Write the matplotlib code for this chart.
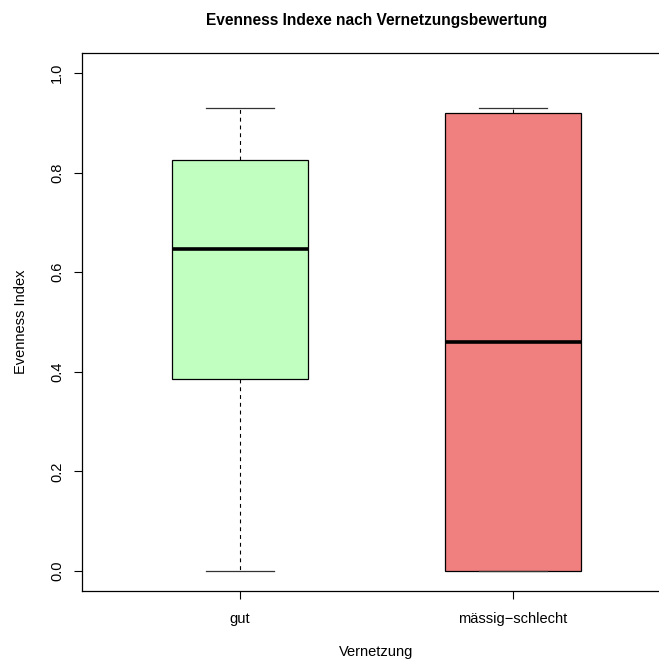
import matplotlib
matplotlib.use("Agg")
import matplotlib.pyplot as plt

plt.rcParams["font.family"] = ["Liberation Sans", "DejaVu Sans"]

categories = ["gut", "mässig\u2212schlecht"]
whislo = [0.0, 0.0]
q1 = [0.385, 0.0]
med = [0.646, 0.46]
q3 = [0.825, 0.919]
whishi = [0.93, 0.93]
colors = ["#C1FFC1", "#F08080"]

stats = [
    dict(label=c, whislo=lo, q1=a, med=m, q3=b, whishi=hi, fliers=[])
    for c, lo, a, m, b, hi in zip(categories, whislo, q1, med, q3, whishi)
]

fig = plt.figure(figsize=(6.59, 6.60), dpi=100)
ax = fig.add_axes([82 / 659, 69 / 660, 589 / 659, 538 / 660])

bp = ax.bxp(
    stats, positions=[1, 2], widths=0.5, patch_artist=True, showfliers=False,
    boxprops=dict(edgecolor="black", linewidth=0.9),
    medianprops=dict(color="black", linewidth=2.6, solid_capstyle="butt"),
    whiskerprops=dict(color="black", linewidth=0.8, linestyle=(0, (3.5, 3.5))),
    capprops=dict(color="#333333", linewidth=0.9),
    capwidths=0.25,
)
for patch, col in zip(bp["boxes"], colors):
    patch.set_facecolor(col)

ax.set_xlim(0.42, 2.58)
ax.set_ylim(-0.04, 1.04)
ax.set_yticks([0.0, 0.2, 0.4, 0.6, 0.8, 1.0])
ax.set_yticklabels(["0.0", "0.2", "0.4", "0.6", "0.8", "1.0"], rotation=90, va="center")
ax.set_xticks([1, 2])
ax.set_xticklabels(categories)
ax.tick_params(axis="both", direction="out", length=6, width=0.8, labelsize=10.5)
ax.tick_params(axis="y", pad=7)
ax.tick_params(axis="x", pad=9)
for s in ax.spines.values():
    s.set_linewidth(0.9)
ax.spines["right"].set_visible(False)

ax.set_title("Evenness Indexe nach Vernetzungsbewertung", fontsize=11.2,
             fontweight="bold", pad=20)
ax.set_xlabel("Vernetzung", fontsize=10.5, labelpad=14)
ax.set_ylabel("Evenness Index", fontsize=10.5, labelpad=16)

fig.savefig("out.png", dpi=100)
